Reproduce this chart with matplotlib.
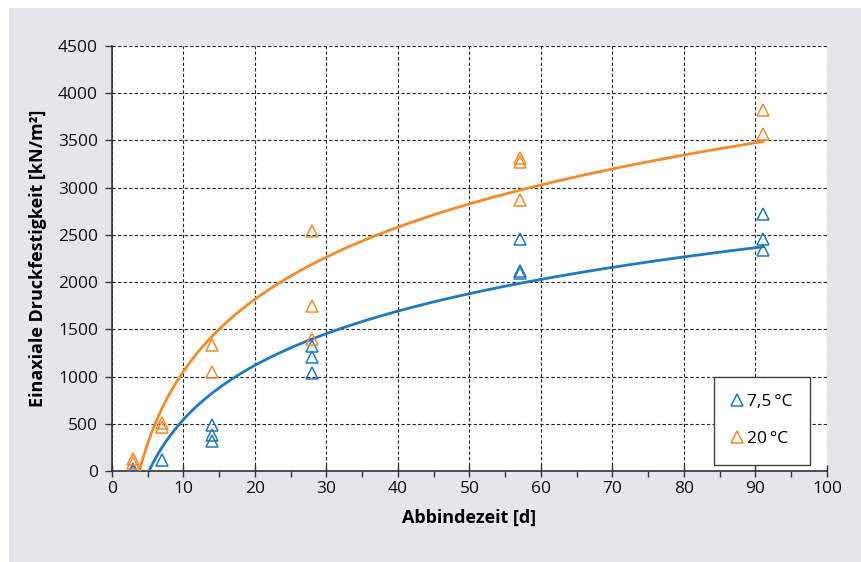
import numpy as np
import matplotlib
matplotlib.use("Agg")
import matplotlib.pyplot as plt
from matplotlib.ticker import MultipleLocator

plt.rcParams['font.family'] = ['Open Sans', 'DejaVu Sans']

# Data: 7.5 °C
x_75 = [3, 3, 7, 14, 14, 14, 28, 28, 28, 57, 57, 57, 91, 91, 91]
y_75 = [0, 20, 115, 490, 380, 320, 1320, 1210, 1040, 2460, 2120, 2100, 2720, 2460, 2340]
# Data: 20 °C
x_20 = [3, 3, 7, 7, 14, 14, 28, 28, 28, 57, 57, 57, 91, 91]
y_20 = [130, 80, 510, 470, 1330, 1050, 2540, 1750, 1400, 3310, 3270, 2870, 3820, 3570]

labels = ['7,5\u2009°C', '20\u2009°C']
blue = '#1f78c1'
orange = '#f58a2c'

fig = plt.figure(figsize=(8.62, 5.62), dpi=100)
fig.patch.set_facecolor('white')
bg = plt.Rectangle((9/862, 0), 1, 1 - 8/562, transform=fig.transFigure,
                   facecolor='#e5e6eb', edgecolor='none', zorder=-10)
fig.patches.append(bg)

ax = fig.add_axes([112/862, 1 - 471/562, 715/862, 425/562])
ax.set_facecolor('white')

xs = np.linspace(3, 91, 400)
for xd, yd, c in [(x_75, y_75, blue), (x_20, y_20, orange)]:
    a, b = np.polyfit(np.log(xd), yd, 1)
    ax.plot(xs, a * np.log(xs) + b, color=c, lw=2, zorder=3)

ax.plot(x_75, y_75, linestyle='none', marker='^', markersize=9, markerfacecolor='none',
        markeredgecolor=blue, markeredgewidth=1.1, label=labels[0], zorder=4)
ax.plot(x_20, y_20, linestyle='none', marker='^', markersize=9, markerfacecolor='none',
        markeredgecolor=orange, markeredgewidth=1.1, label=labels[1], zorder=4)

ax.set_xlim(0, 100)
ax.set_ylim(0, 4500)
ax.xaxis.set_major_locator(MultipleLocator(10))
ax.xaxis.set_minor_locator(MultipleLocator(5))
ax.yaxis.set_major_locator(MultipleLocator(500))

ax.grid(True, which='major', color='#222222', linestyle=(0, (3, 2)), lw=0.8, zorder=1)
ax.set_axisbelow(True)
for s in ['top', 'right']:
    ax.spines[s].set_visible(False)
for s in ['left', 'bottom']:
    ax.spines[s].set_color('#333333')
    ax.spines[s].set_linewidth(1.2)

ax.tick_params(axis='x', which='major', direction='inout', length=9, width=1, colors='#333333',
               labelsize=12.5, labelcolor='#111111', pad=3)
ax.tick_params(axis='x', which='minor', direction='out', length=4, width=1, colors='#333333')
ax.tick_params(axis='y', which='major', direction='out', length=5, width=1, colors='#333333',
               labelsize=12.5, labelcolor='#111111', pad=5)

ax.set_xlabel('Abbindezeit [d]', fontsize=13, fontweight='bold', labelpad=8)
ax.set_ylabel('Einaxiale Druckfestigkeit [kN/m²]', fontsize=13, fontweight='bold', labelpad=8)

leg = ax.legend(loc='lower right', bbox_to_anchor=(0.976, 0.015), frameon=True, fancybox=False,
                edgecolor='#444444', framealpha=1, fontsize=12.5, handlelength=0.6,
                handletextpad=0.3, labelspacing=1.2, borderpad=1.0, borderaxespad=0)
leg.get_frame().set_linewidth(1.0)

fig.savefig('out.png', dpi=100, facecolor=fig.get_facecolor())
